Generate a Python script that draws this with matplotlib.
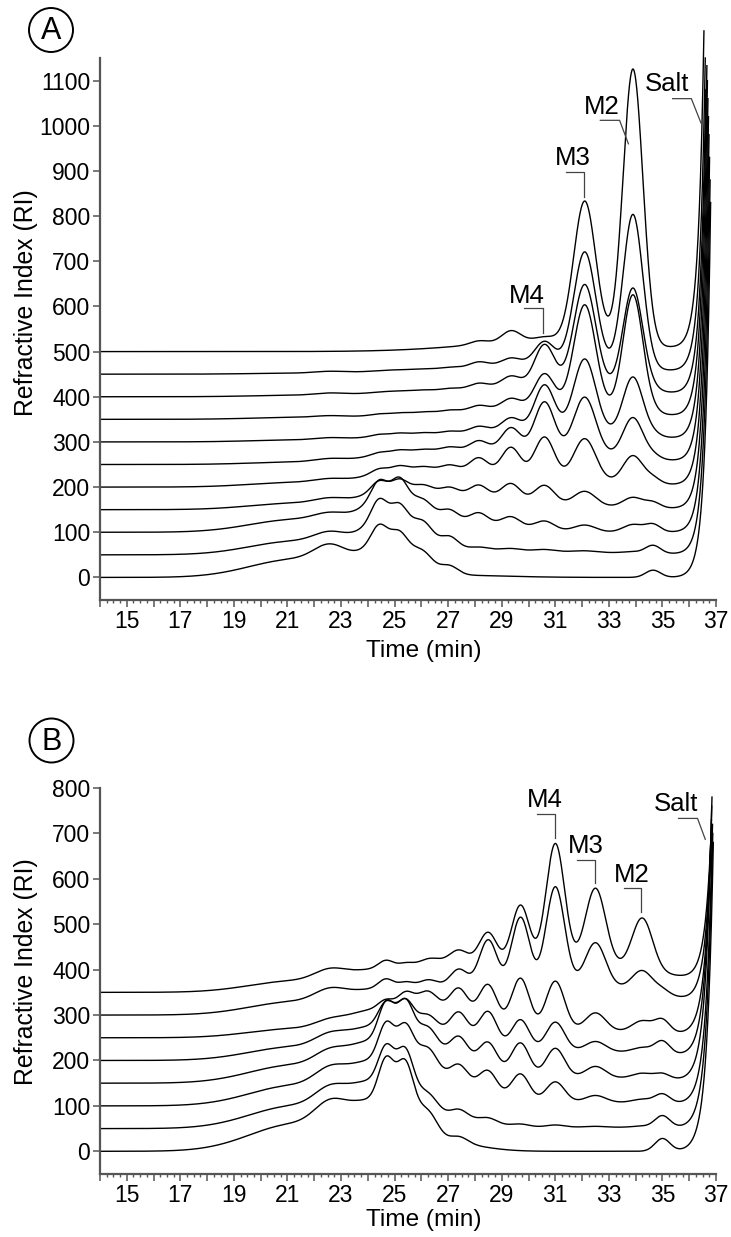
import numpy as np
import matplotlib
matplotlib.use("Agg")
import matplotlib.pyplot as plt
from matplotlib.ticker import MultipleLocator, FuncFormatter
from matplotlib.patches import Ellipse

plt.rcParams['font.family'] = ['Liberation Sans', 'DejaVu Sans']

# ------------------- Panel A data -------------------
# each trace = offset + sum of peak components (heights)
offsets_a = [0, 50, 100, 150, 200, 250, 300, 350, 400, 450, 500]
# components: broad1, broad2, broad3, 24.4, 25.2, 26.1, 27.05, 28.15, 29.35, M4, M3, M2, 34.65, tail, drift
centres_a = [21.3, 22.6, 24.8, 24.4, 25.2, 26.1, 27.05, 28.15, 29.35, 30.6, 32.1, 33.9, 34.65, 27.0, 31.0]
widths_a = [1.7, 0.6, 0.9, 0.28, 0.28, 0.35, 0.32, 0.33, 0.35, 0.37, 0.41, 0.37, 0.28, 2.0, 3.0]
heights_a = [
    [40, 40, 80, 34, 23, 25, 18, 0, 0, 0, 0, 0, 16, 5, 0],
    [30, 25, 80, 40, 30, 35, 25, 5, 4, 4, 3, 3, 18, 10, 6],
    [28, 18, 70, 35, 38, 25, 22, 22, 22, 20, 15, 17, 17, 25, 0],
    [14, 12, 30, 20, 18, 15, 15, 24, 36, 40, 32, 22, 12, 30, 8],
    [10, 8, 18, 8, 8, 8, 12, 30, 60, 90, 92, 60, 12, 30, 15],
    [5, 7, 12, 4, 4, 5, 8, 20, 50, 110, 125, 88, 8, 20, 25],
    [4, 5, 8, 3, 3, 4, 5, 12, 28, 100, 160, 128, 6, 8, 25],
    [4, 4, 5, 2, 2, 3, 4, 10, 22, 75, 230, 260, 5, 6, 25],
    [3, 5, 6, 0, 0, 2, 3, 10, 22, 90, 225, 225, 4, 5, 25],
    [2, 4, 4, 0, 0, 1, 2, 10, 15, 50, 250, 340, 0, 4, 22],
    [0, 0, 0, 0, 0, 0, 0, 8, 25, 8, 310, 610, 0, 0, 25],
]
salt_top_a = [830, 880, 930, 980, 1020, 1060, 1100, 1133, 1080, 1150, 1210]
salt_end_a = [36.8, 36.78, 36.76, 36.74, 36.72, 36.70, 36.68, 36.66, 36.62, 36.60, 36.55]

# ------------------- Panel B data -------------------
offsets_b = [0, 50, 100, 150, 200, 250, 300, 350]
centres_b = [21.3, 22.6, 24.1, 24.7, 25.4, 26.2, 27.4, 28.5, 29.7, 31.0, 32.5, 34.25, 35.0, 27.0, 32.0]
widths_b = [1.7, 0.6, 0.8, 0.3, 0.32, 0.4, 0.33, 0.34, 0.34, 0.35, 0.38, 0.38, 0.28, 1.2, 3.5]
heights_b = [
    [60, 55, 90, 117, 150, 70, 15, 0, 0, 0, 0, 0, 28, 18, 0],
    [50, 45, 85, 100, 130, 55, 20, 12, 6, 5, 2, 3, 26, 22, 3],
    [45, 42, 80, 100, 120, 80, 40, 50, 60, 45, 15, 8, 20, 50, 8],
    [40, 35, 75, 100, 125, 75, 50, 60, 75, 65, 25, 12, 12, 50, 12],
    [30, 30, 60, 65, 85, 55, 55, 75, 70, 65, 22, 12, 28, 45, 20],
    [20, 20, 50, 30, 55, 55, 55, 85, 115, 110, 40, 25, 28, 50, 15],
    [29, 30, 40, 30, 30, 30, 40, 110, 160, 220, 95, 45, 10, 35, 65],
    [25, 27, 35, 25, 22, 20, 25, 75, 140, 270, 170, 115, 0, 45, 60],
]
salt_top_b = [680, 700, 720, 780, 760, 730, 690, 675]
salt_end_b = [36.90, 36.88, 36.87, 36.85, 36.84, 36.83, 36.82, 36.80]

# peak labels: (text, text x, text y, pointer path)
labels_a = [
    ('M4', 29.95, 624, [(29.84, 596), (30.55, 596), (30.55, 542)]),
    ('M3', 31.67, 929, [(31.40, 898), (32.09, 898), (32.09, 842)]),
    ('M2', 32.74, 1042, [(32.68, 1012), (33.40, 1012), (33.73, 960)]),
    ('Salt', 35.18, 1093, [(35.38, 1060), (36.08, 1060), (36.44, 1006)]),
]
labels_b = [
    ('M4', 30.60, 773, [(30.31, 742), (31.00, 742), (31.00, 690)]),
    ('M3', 32.15, 672, [(31.80, 642), (32.49, 642), (32.49, 590)]),
    ('M2', 33.86, 609, [(33.55, 579), (34.21, 579), (34.21, 527)]),
    ('Salt', 35.52, 764, [(35.60, 733), (36.31, 733), (36.60, 687)]),
]

SPINE = '#555555'


def make_trace(t, offset, heights, centres, widths, top, tau):
    y = np.full_like(t, float(offset))
    for h, c, w in zip(heights, centres, widths):
        y += h * np.exp(-0.5 * ((t - c) / w) ** 2)
    # salt front: steep rise up to the end value
    y += (top - y[-1]) * np.exp((t - t[-1]) / tau)
    return y


def draw_panel(ax, offsets, heights, centres, widths, tops, ends, tau, ylim, yticks, labels):
    for off, h, top, end in zip(offsets, heights, tops, ends):
        t = np.linspace(14.0, end, 2500)
        y = make_trace(t, off, h, centres, widths, top, tau)
        ax.plot(t, y, color='black', lw=1.0, clip_on=False)

    for txt, tx, ty, path in labels:
        px, py = zip(*path)
        ax.plot(px, py, color='#444444', lw=0.9, clip_on=False)
        ax.text(tx, ty, txt, fontsize=18.5, ha='center', va='center')

    ax.set_xlim(14, 37)
    ax.set_ylim(*ylim)
    ax.set_yticks(yticks)
    ax.xaxis.set_major_locator(MultipleLocator(1))
    ax.xaxis.set_minor_locator(MultipleLocator(0.25))
    ax.xaxis.set_major_formatter(FuncFormatter(lambda v, p: str(int(round(v))) if int(round(v)) % 2 == 1 else ''))
    for s in ['top', 'right']:
        ax.spines[s].set_visible(False)
    for s in ['left', 'bottom']:
        ax.spines[s].set_color(SPINE)
        ax.spines[s].set_linewidth(1.6)
    ax.tick_params(axis='both', which='major', direction='out', length=5, width=1.1,
                   color=SPINE, labelsize=16.5, pad=2)
    ax.tick_params(axis='x', which='minor', direction='out', length=2.5, width=1.0, color=SPINE)


fig = plt.figure(figsize=(7.31, 12.37), dpi=100)
W, H = 731.0, 1237.0

ax_a = fig.add_axes([100 / W, 1 - 600 / H, 616 / W, 542 / H])
draw_panel(ax_a, offsets_a, heights_a, centres_a, widths_a, salt_top_a, salt_end_a, 0.21,
           (-50, 1150), range(0, 1101, 100), labels_a)

ax_b = fig.add_axes([100 / W, 1 - 1174 / H, 616 / W, 386 / H])
draw_panel(ax_b, offsets_b, heights_b, centres_b, widths_b, salt_top_b, salt_end_b, 0.24,
           (-50, 800), range(0, 801, 100), labels_b)

# axis titles
for ycen in [303, 972]:
    fig.text(26 / W, 1 - ycen / H, 'Refractive Index (RI)', rotation=90,
             ha='center', va='center', fontsize=17.8)
for ycen in [651, 1220]:
    fig.text(424 / W, 1 - ycen / H, 'Time (min)', ha='center', va='center', fontsize=17.6)

# circled panel letters
for letter, (cx, cy) in [('A', (51, 30)), ('B', (51.5, 740.5))]:
    fig.patches.append(Ellipse((cx / W, 1 - cy / H), 44 / W, 44 / H, transform=fig.transFigure,
                               fill=False, ec='black', lw=1.4))
    fig.text(cx / W, 1 - (cy + 1) / H, letter, ha='center', va='center', fontsize=22)

fig.savefig('out.png', dpi=100)
